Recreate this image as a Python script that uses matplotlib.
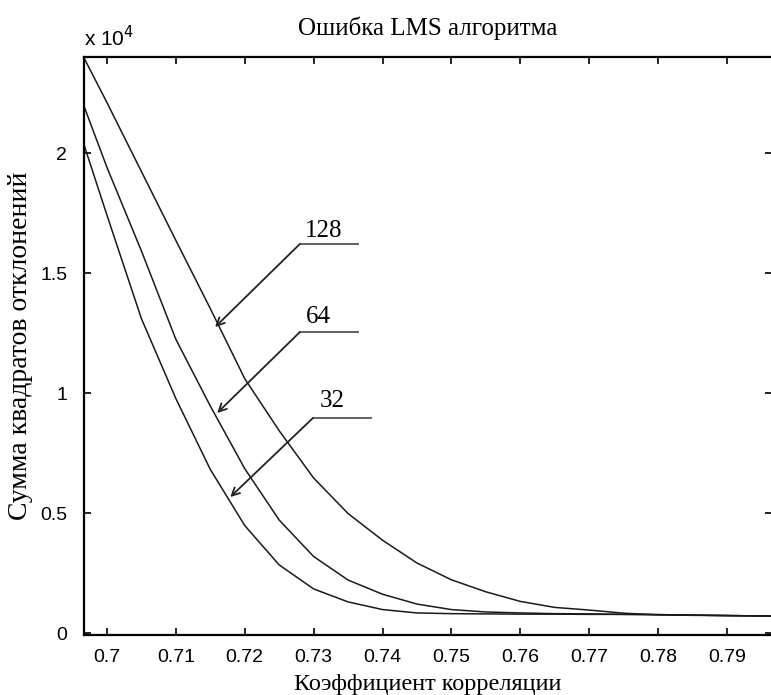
import numpy as np
import matplotlib
matplotlib.use("Agg")
import matplotlib.pyplot as plt

# correlation coefficient grid and error sums (x 1e4)
corr = [0.6966, 0.700, 0.705, 0.710, 0.715, 0.720, 0.725, 0.730, 0.735, 0.740,
        0.745, 0.750, 0.755, 0.760, 0.765, 0.770, 0.775, 0.780, 0.785, 0.790, 0.7966]
err_128 = [2.40, 2.21, 1.923, 1.636, 1.352, 1.060, 0.843, 0.646, 0.498, 0.387,
           0.292, 0.222, 0.172, 0.132, 0.107, 0.096, 0.083, 0.076, 0.074, 0.073, 0.071]
err_64 = [2.20, 1.94, 1.592, 1.224, 0.946, 0.685, 0.471, 0.319, 0.221, 0.162,
          0.121, 0.098, 0.088, 0.084, 0.081, 0.080, 0.078, 0.077, 0.075, 0.073, 0.071]
err_32 = [2.04, 1.741, 1.310, 0.977, 0.682, 0.448, 0.284, 0.184, 0.130, 0.098,
          0.084, 0.081, 0.080, 0.079, 0.079, 0.078, 0.078, 0.077, 0.075, 0.073, 0.071]

# arrow labels: name, arrow tip, elbow, end of leader, text position (x, y*1e4)
labels = ['128', '64', '32']
tips = [(0.7157, 1.275), (0.7160, 0.917), (0.7179, 0.567)]
elbows = [(0.7280, 1.621), (0.7280, 1.254), (0.7299, 0.896)]
leader_ends = [0.7365, 0.7365, 0.7384]
text_pos = [(0.7314, 1.675), (0.7307, 1.315), (0.7327, 0.965)]

serif = 'Liberation Serif'
sans = 'Liberation Sans'

fig = plt.figure(figsize=(7.71, 6.95), dpi=100)
ax = fig.add_axes([0.1089, 0.0863, 0.8924, 0.8317])

for vals in (err_128, err_64, err_32):
    ax.plot(corr, np.array(vals) * 1e4, color='#1a1a1a', lw=1.1)

for name, tip, elb, xend, tp in zip(labels, tips, elbows, leader_ends, text_pos):
    ax.annotate('', xy=(tip[0], tip[1] * 1e4), xytext=(elb[0], elb[1] * 1e4),
                arrowprops=dict(arrowstyle='->', color='#222222', lw=1.3,
                                shrinkA=0, shrinkB=0, mutation_scale=14))
    ax.plot([elb[0], xend], [elb[1] * 1e4, elb[1] * 1e4], color='#555555', lw=1.3)
    ax.text(tp[0], tp[1] * 1e4, name, ha='center', va='center',
            fontsize=18, family=serif)

ax.set_xlim(0.69666, 0.79654)
ax.set_ylim(-80, 24000)
ax.set_xticks(np.arange(0.70, 0.795, 0.01))
ax.set_xticklabels(['%.2f' % v if round(v * 100) % 10 else '%.1f' % v
                    for v in np.arange(0.70, 0.795, 0.01)], family=sans, fontsize=14)
ax.set_yticks([0, 5000, 10000, 15000, 20000])
ax.set_yticklabels(['0', '0.5', '1', '1.5', '2'], family=sans, fontsize=14)
ax.tick_params(direction='in', top=True, right=True, length=5, width=1.2)
ax.tick_params(axis='x', pad=10)
ax.tick_params(axis='y', pad=12)
for sp in ax.spines.values():
    sp.set_linewidth(1.6)

ax.text(0.0, 1.012, r'x 10$^{4}$', transform=ax.transAxes, fontsize=15,
        family=sans, ha='left', va='bottom')
ax.set_title('Ошибка LMS алгоритма', family=serif, fontsize=18, pad=16)
ax.set_xlabel('Коэффициент корреляции', family=serif, fontsize=17.5)
ax.xaxis.set_label_coords(0.5, -0.068)
ax.set_ylabel('Сумма квадратов отклонений', family=serif, fontsize=20)
ax.yaxis.set_label_coords(-0.074, 0.5)

fig.savefig('out.png', dpi=100)
